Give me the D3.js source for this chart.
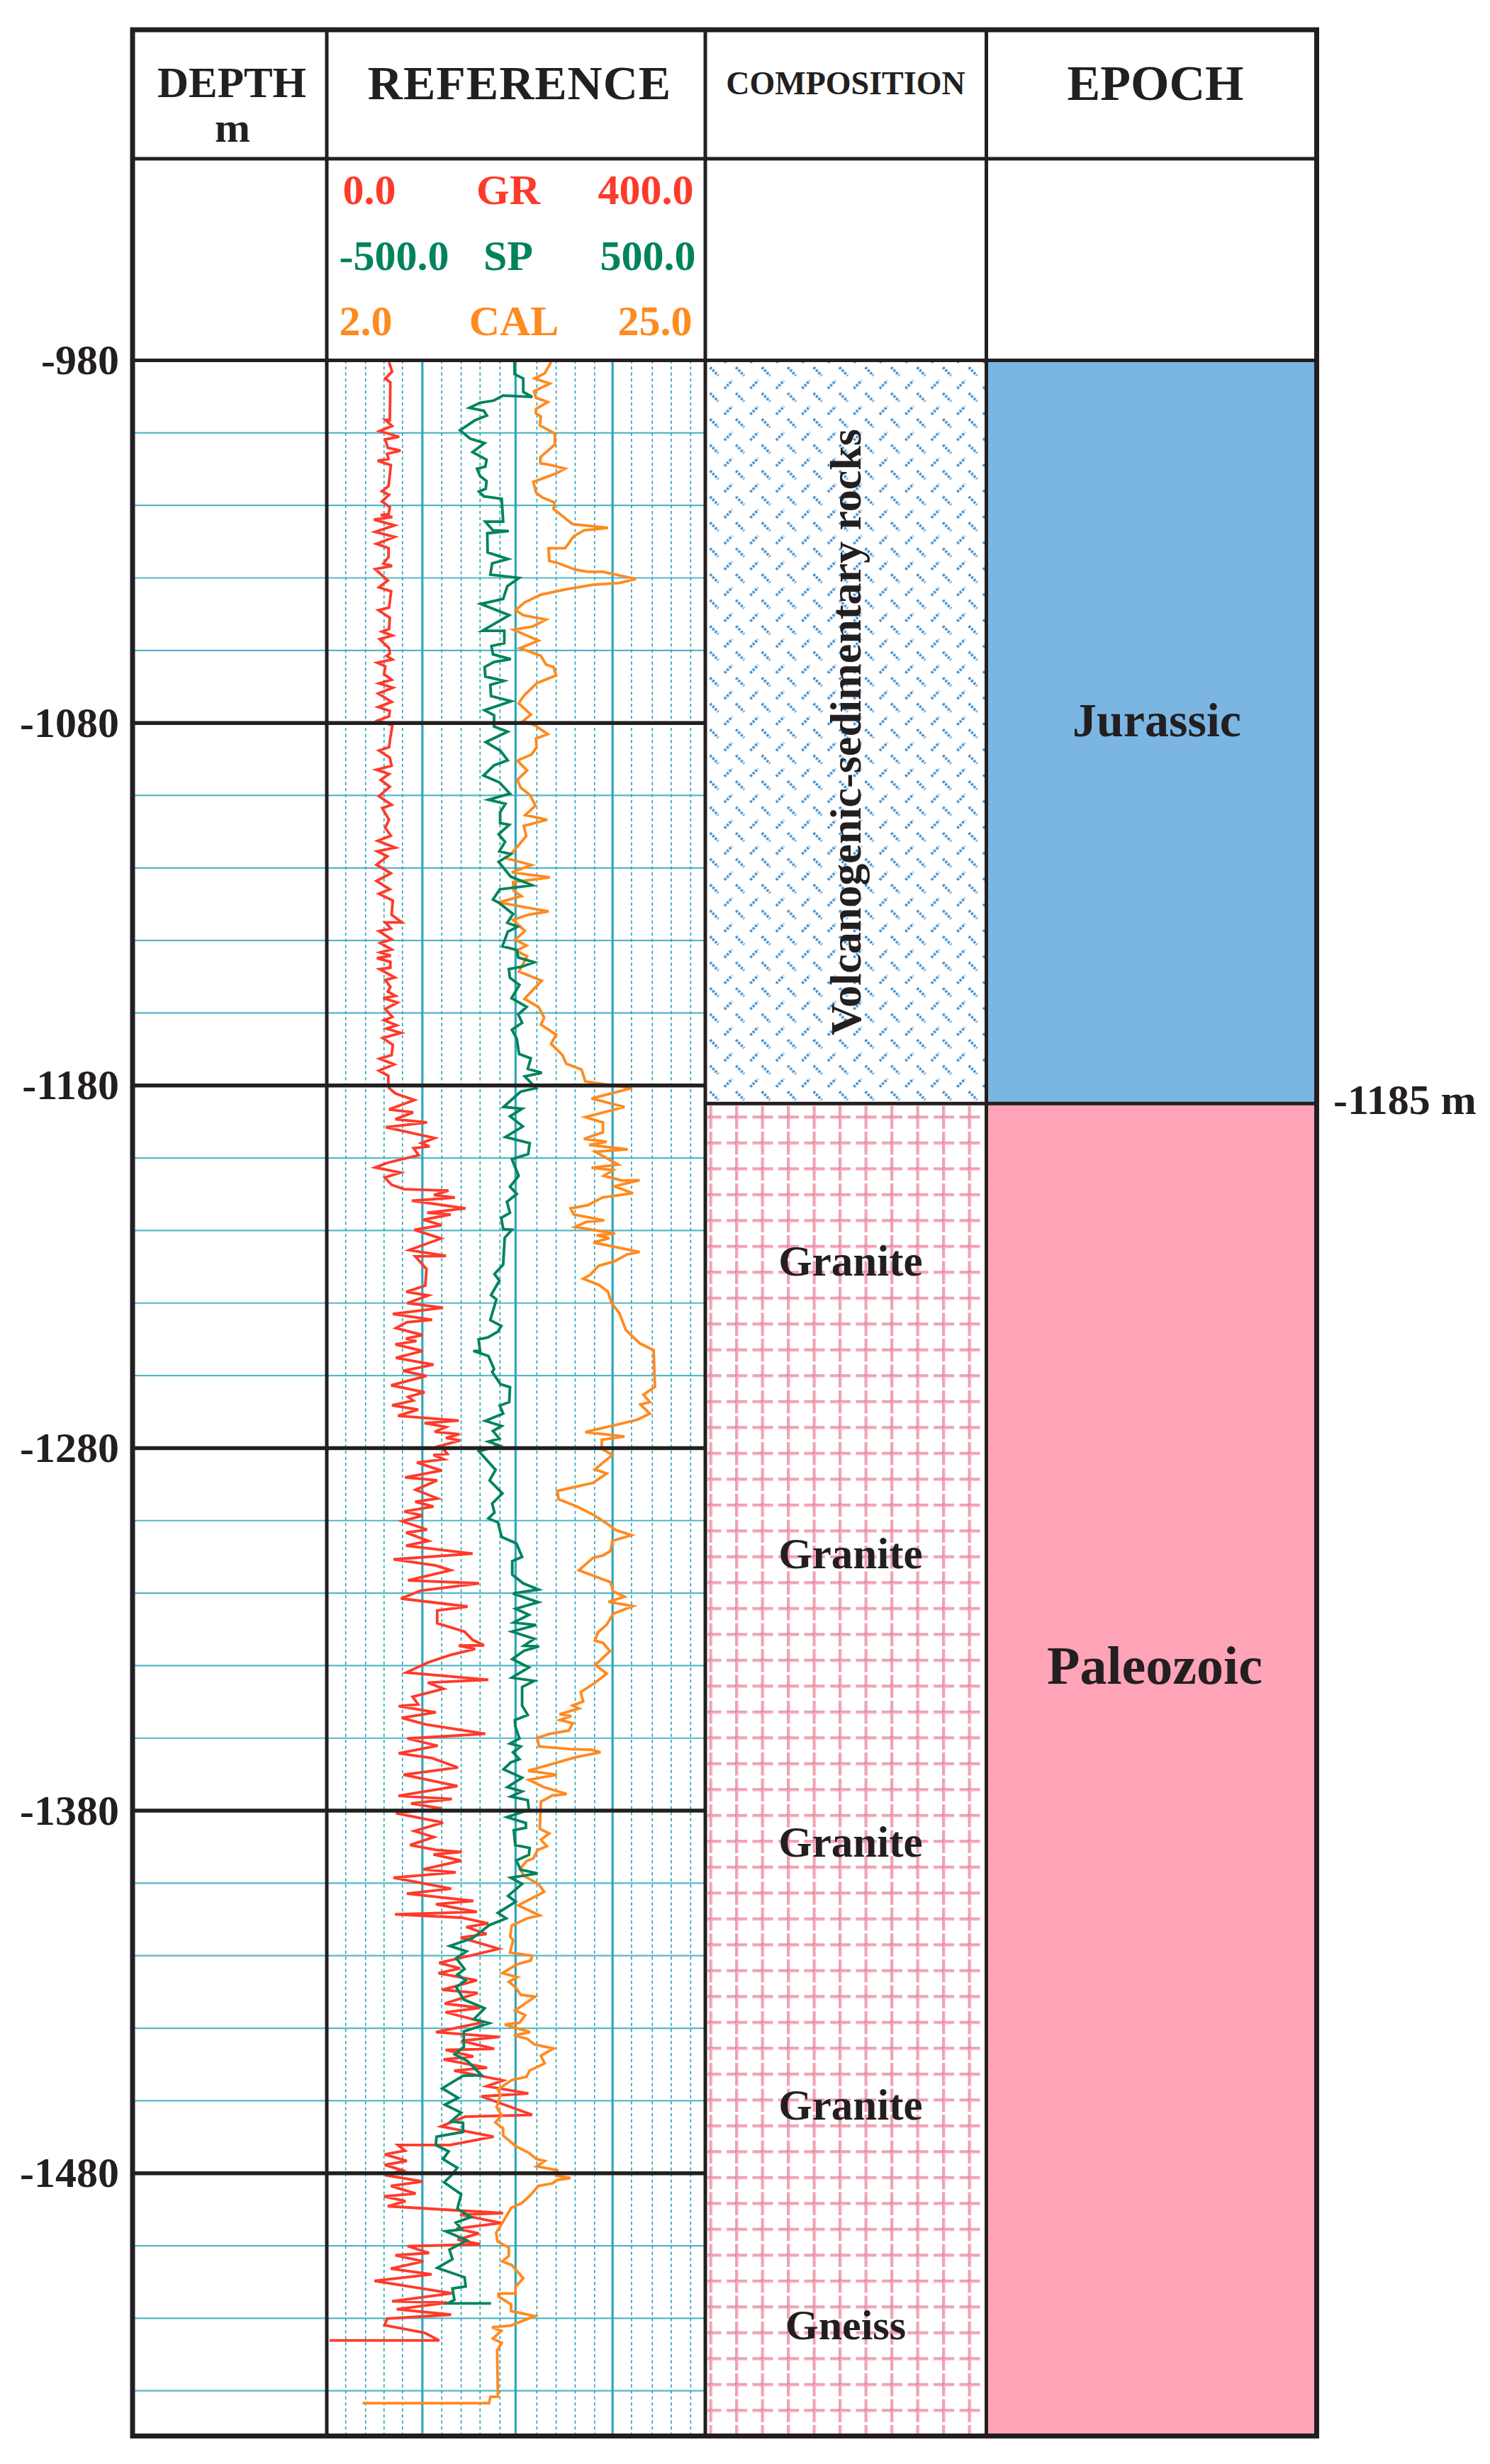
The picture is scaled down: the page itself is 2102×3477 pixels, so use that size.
<!DOCTYPE html>
<html>
<head>
<meta charset="utf-8">
<style>
  html, body { margin: 0; padding: 0; background: #fff; }
  svg { display: block; }
  text { font-family: "Liberation Serif", serif; font-weight: bold; }
</style>
<script src="https://cdn.jsdelivr.net/npm/d3@7/dist/d3.min.js"></script>
</head>
<body>
<div id="chart"></div>
<script>
// log readings as [depth m, value]
const grLog = [
[980.5,65.8],[983.1,69],[985,61.8],[986.1,67.2],[996.5,66.6],[996.4,61.8],[998.1,69],[999.5,55.9],[1001.1,76.5],[1001.8,61.8],
[1004.1,64.5],[1004.9,77.9],[1005.8,63.7],[1007.2,65.3],[1007.7,53.8],[1008.9,67.7],[1014.7,65.3],[1016.1,58.3],[1017.1,65.8],[1018.9,58.3],
[1020.5,66.6],[1022.4,65.3],[1022.7,57],[1023.2,69.3],[1023.9,49.8],[1025.5,71.7],[1027.3,51.1],[1028.7,71.7],[1030.6,52.5],[1031.8,65.3],
[1034.2,65.3],[1036,59.9],[1036.7,69],[1037.6,51.1],[1040.7,64.5],[1042.6,55.1],[1043.7,68],[1048.2,65.8],[1048.9,54.6],[1051,66.6],
[1054.1,65.8],[1054.8,58.3],[1055.9,69.3],[1056.9,55.9],[1059.4,65.8],[1060.9,66.6],[1061.5,63.2],[1062.5,69.3],[1063.4,53.3],[1064.4,61.8],
[1066.5,60.5],[1068.1,68.5],[1069.1,55.1],[1070.3,69.8],[1071.9,54.3],[1074.2,68.5],[1075.6,54.3],[1076.7,66.6],[1078.2,65.8],[1079.3,54.3],
[1080.7,69.3],[1084,67.2],[1086.7,65.8],[1087.6,55.1],[1089.6,66.6],[1091.8,68.5],[1092.9,52.5],[1094.1,65.8],[1095.7,57],[1097.6,66.6],
[1100.2,55.1],[1102.6,68.5],[1103.5,58.6],[1106.7,65.8],[1108.9,61.8],[1111.1,67.7],[1112.5,53.8],[1114.4,72.5],[1115.4,53.3],[1116.8,64],
[1119.1,52.5],[1121.5,67.7],[1123.6,52.5],[1125.9,66.6],[1127.1,55.1],[1129,69.8],[1132.9,68.5],[1135,79.2],[1135,61.8],[1136.7,67.7],
[1137.4,55.1],[1139.7,68.5],[1140.7,56.5],[1142.5,68.5],[1143.3,56.5],[1144.2,67.7],[1144.9,53],[1145.9,67.2],[1147.5,67.2],[1147.9,55.9],
[1150.2,72],[1150.9,61.8],[1152.8,67.2],[1154.1,64.5],[1155.3,72.5],[1155.9,59.7],[1157.1,74.7],[1158.9,61.8],[1161.1,69.3],[1162,60.5],
[1163.4,73.9],[1164.3,63.2],[1165.5,78.4],[1166.9,59.1],[1168.8,69.8],[1171.6,68.5],[1172.6,55.9],[1174.2,71.2],[1175.9,55.1],[1177.3,65],
[1179.3,65],[1180.7,65.8],[1182.2,72.5],[1184,92.6],[1186.6,65.8],[1187.4,91.3],[1189.3,72.5],[1190.2,106],[1191.5,62.4],[1194.5,114],
[1195.9,99.8],[1196.8,108.6],[1197.3,91.8],[1199.2,97.1],[1201.3,64.5],[1202.6,51.1],[1204,77.9],[1205.4,61.3],[1207.4,68.5],[1208.6,81.9],
[1209,128.7],[1210.2,113.2],[1210.9,135.4],[1211.8,89.9],[1213.9,146.6],[1215.1,106],[1215.6,130.9],[1217,102],[1218.5,121.2],[1219.8,92.6],
[1222.2,120.7],[1225.4,87.2],[1227,126],[1227.1,93.4],[1230.6,105.4],[1235.2,104.1],[1236.9,84],[1237.9,107.3],[1240,85.1],[1241.3,122.8],
[1243,69.8],[1244.6,111.3],[1245.3,84.6],[1246.9,73.1],[1248.8,101.4],[1249.8,83.8],[1250.5,94.7],[1251.4,72.5],[1253.2,101.4],[1255.1,73.1],
[1257,112.7],[1258.7,80.5],[1260.1,105.2],[1262.7,68],[1264.6,103.3],[1265.9,85.9],[1266.9,91.3],[1268.2,69],[1269.4,96.6],[1271.1,75.2],
[1272.4,139.4],[1273.1,103.3],[1274.2,126],[1275.5,114],[1276.2,140.2],[1277.2,126],[1277.9,140.8],[1279.5,118],[1280.5,123.9],[1281.6,127.4],
[1281.9,112.7],[1283.1,123.9],[1284,95.3],[1286.2,121.2],[1288.1,82.7],[1288.9,116.7],[1291.5,93.9],[1293.9,117.2],[1294.8,93.4],[1296.1,112.7],
[1297.5,81.9],[1298.6,101.4],[1300.2,79.7],[1302.5,106],[1303.3,83.8],[1305.6,107.3],[1306.9,83.8],[1309.1,154.1],[1310.7,70.4],[1312.4,115.3],
[1313.7,130.9],[1316.5,85.9],[1317.3,160.8],[1319.3,99.3],[1321.5,78.4],[1323.7,148.8],[1324.8,116.7],[1328.3,116.7],[1330.6,145.6],[1332.9,154.1],
[1334.4,166.2],[1334.5,139.4],[1335.4,156.8],[1337,131.4],[1339.1,107.3],[1341.9,84],[1343.9,170.7],[1344.7,106.8],[1346.4,123.4],[1348.6,90.7],
[1350.7,96.6],[1351.2,76],[1352.9,115.3],[1354.4,79.2],[1356.2,104.6],[1358.8,167.5],[1360.1,85.1],[1362.1,117.2],[1364.2,76],[1365.5,111.3],
[1368.1,138.6],[1370.1,81.1],[1373.2,138.1],[1375.9,75.7],[1376.8,132.2],[1378,89.1],[1379.4,120.7],[1380.7,73.1],[1383.3,122.8],[1385.6,92.6],
[1387.3,113.2],[1389.5,88],[1390.8,115.3],[1391.4,142.6],[1392.1,112.7],[1393.8,142.1],[1396.2,102],[1397,136.2],[1398.5,70.4],[1401.5,131.4],
[1402.9,84.6],[1404.9,154.9],[1405.8,115.3],[1407.9,158.7],[1408.6,72],[1409.5,142.1],[1411.1,170.7],[1412.1,147.4],[1414,168.9],[1415,141.6],
[1418.1,181.7],[1420.4,144.8],[1422,118.8],[1423.5,140.8],[1424.8,118],[1426.8,158.7],[1429.4,122],[1430.3,159.5],[1433.2,124.7],[1434.4,162.2],
[1435.6,125.5],[1438.3,166.2],[1441.1,115.3],[1442.4,182.2],[1443.5,142.1],[1445.7,176.9],[1446,125.5],[1447.8,154.9],[1448.6,123.4],[1450.9,169.4],
[1451.7,134.6],[1454.4,186.3],[1456,168.9],[1458,213],[1458.8,163.5],[1463.9,217],[1464.4,146.1],[1467.1,120.7],[1469.9,176.3],[1472.2,130.1],
[1472.2,75.2],[1473.8,82.7],[1474.8,61.3],[1476.6,84.6],[1477.7,61.3],[1479.2,80],[1480.5,61.8],[1482.3,101.4],[1483.5,67.7],[1485.6,93.9],
[1486.4,60.5],[1487.7,83.2],[1489.1,64.5],[1491,186.3],[1491.4,140.8],[1493.7,184.4],[1495.3,136.7],[1496.6,160.8],[1498.3,138.1],[1499.6,162.2],
[1500.1,85.4],[1502,108.1],[1502.6,72.5],[1504.3,102],[1506.3,67.7],[1507.9,110.8],[1509.7,50.3],[1513.1,132.2],[1515.3,69],[1515.7,127.4],
[1517.5,73.9],[1519,131.4],[1520.1,64],[1521.9,61],[1524,103.3],[1526.1,118.8],[1526.1,2.9]
];

const spLog = [
[980.5,-4],[983.8,-4],[985,19],[988.7,19],[990.1,43],[989.7,-34],[991.1,-59],[991.7,-95],[993.1,-123],[993.9,-85],
[995.2,-77],[996.5,-108],[999.3,-148],[1001.6,-121],[1002.8,-83],[1005.3,-115],[1007.4,-78],[1009.3,-81],[1009.9,-103],[1011.9,-95],
[1013.3,-78],[1015.4,-80],[1016.2,-98],[1017.5,-85],[1018.2,-38],[1024.5,-34],[1024.5,-81],[1026.9,-61],[1027.1,-19],[1027.7,-76],
[1033,-75],[1034.8,-21],[1036,-63],[1039.1,-68],[1040,8],[1042.3,-23],[1045.8,-34],[1047.2,-93],[1050.3,-18],[1054.6,-89],
[1054.6,-31],[1058,-31],[1058.8,-65],[1061.1,-61],[1062.4,-14],[1063.2,-58],[1064.6,-83],[1067.2,-81],[1068.4,-32],[1069.5,-68],
[1072.6,-66],[1074,-13],[1076.5,-83],[1077.9,-58],[1081,-58],[1082.4,-22],[1085.3,-80],[1087.7,-41],[1090.3,-22],[1091.7,-58],
[1094.5,-86],[1096.4,-44],[1099.5,-16],[1101.2,-73],[1102.3,-28],[1104.6,-42],[1107.6,-42],[1108.1,-18],[1110.7,-46],[1112.8,-29],
[1115.4,-44],[1116.2,-14],[1118.3,-46],[1122.4,-14],[1124.8,43],[1125.9,-43],[1128.7,-61],[1129.7,-44],[1132.7,-8],[1135.1,-23],
[1136.2,4],[1137.6,-22],[1141.6,-36],[1142.6,2],[1144.7,6],[1146,48],[1147.2,16],[1147.9,-19],[1150.3,-16],[1152.3,9],
[1155.9,-12],[1158.3,28],[1160.4,6],[1162.7,16],[1164.6,-11],[1167.1,2],[1171.3,8],[1172.5,39],[1175.4,31],[1176.5,68],
[1177.5,23],[1179.6,43],[1180.7,53],[1181.7,12],[1185.9,-33],[1186.4,16],[1188.5,-16],[1191.3,18],[1194.2,-28],[1195.9,36],
[1198.9,32],[1200.3,-11],[1204.9,7],[1207.9,-16],[1209.9,2],[1212.1,-24],[1215.1,-16],[1216.5,-39],[1219.6,-34],[1219.8,-11],
[1222,-30],[1229.4,-34],[1232,-57],[1233.8,-44],[1237.8,-66],[1239,-52],[1244.7,-68],[1246.3,-39],[1247.9,-48],[1249.5,-75],
[1250,-99],[1253.2,-95],[1253.2,-113],[1254.6,-73],[1258.2,-58],[1259,-63],[1262.4,-41],[1263.2,-16],[1267.3,-18],[1268.3,-43],
[1270.5,-34],[1272.5,-81],[1273.9,-38],[1275.3,-61],[1277.4,-44],[1278.2,-73],[1279.3,-44],[1280.9,-98],[1286,-54],[1288.9,-70],
[1292.5,-36],[1295.3,-63],[1297.8,-57],[1299.4,-73],[1300.5,-48],[1304.5,-38],[1306.3,1],[1310,16],[1311.2,-10],[1314.9,-10],
[1317.3,19],[1319,59],[1320.1,-8],[1322.5,59],[1324.3,-1],[1326,34],[1328.1,-6],[1328.8,53],[1330.6,-11],[1332.6,48],
[1334.5,21],[1334.7,61],[1335.9,21],[1338.2,-10],[1340.5,34],[1343.3,-11],[1344.2,48],[1345.9,16],[1351,16],[1353.6,31],
[1355,-3],[1356.7,-2],[1360.1,9],[1361.5,-16],[1362.3,12],[1363.9,-8],[1365.8,9],[1366.7,-14],[1368.6,-33],[1370.9,16],
[1373.5,-23],[1374.7,16],[1376.1,-14],[1377.1,31],[1379.8,34],[1381.8,-24],[1383.4,26],[1384.7,26],[1385.4,-6],[1389.5,-2],
[1390.3,36],[1392.2,34],[1393.7,1],[1396.3,12],[1397.3,57],[1398.5,-14],[1400.2,16],[1403.5,-21],[1405.1,-1],[1408.2,-48],
[1409.7,-26],[1411.6,-71],[1415.2,-115],[1417.3,-175],[1418.8,-131],[1420.7,-158],[1423.7,-136],[1425.2,-155],[1426.8,-133],[1428.7,-158],
[1432.1,-138],[1434.5,-83],[1437.5,-111],[1438.6,-71],[1440.9,-138],[1445.2,-138],[1447.2,-162],[1449.1,-128],[1453,-91],[1453.1,-140],
[1456.6,-195],[1459.2,-153],[1461.1,-188],[1463.3,-145],[1465.7,-172],[1466.1,-140],[1468.6,-140],[1469.9,-210],[1472.2,-212],[1474,-178],
[1476.1,-193],[1478.5,-155],[1480.7,-172],[1482.5,-190],[1485.8,-145],[1489.8,-155],[1492.1,-119],[1493.6,-159],[1495.5,-143],[1496,-186],
[1498.5,-130],[1501.1,-176],[1503.7,-168],[1506.1,-208],[1508.7,-136],[1511.2,-133],[1511.8,-168],[1514.9,-163],[1515.9,-180],[1515.9,-66]
];

const calLog = [
[980.5,15.63],[983.6,15.24],[985,14.63],[986.4,15.55],[988.5,14.6],[990.3,14.71],[991.5,15.43],[993.4,14.71],[994.6,14.71],[995.5,15.01],
[997.9,14.94],[1000.2,15.86],[1003.2,15.86],[1006.7,14.98],[1008.4,14.98],[1008.8,15.55],[1009.9,16.48],[1011.2,15.94],[1013.5,14.55],[1016.4,14.71],
[1017.8,15.09],[1019.2,15.83],[1021,15.78],[1025.2,16.94],[1026.2,19.09],[1026.9,17.63],[1028.5,17.01],[1031.8,16.48],[1031.8,15.48],[1035.3,15.52],
[1036,16.09],[1037.7,17.09],[1038.3,17.86],[1038.3,18.78],[1040.3,20.78],[1041.4,19.78],[1041.9,18.17],[1043.2,16.48],[1044.6,15.01],[1046.8,14.01],
[1048.9,13.47],[1050.3,13.94],[1051.5,15.32],[1053.4,14.52],[1054.3,13.35],[1057.3,14.86],[1059.4,13.74],[1061.5,15.01],[1063.9,15.32],[1064.6,15.78],
[1066.9,15.94],[1069,14.78],[1072.3,14.01],[1074.6,13.66],[1077.7,14.4],[1079.4,13.94],[1080.7,14.66],[1083.1,15.43],[1084.3,14.71],[1086.7,14.75],
[1088.7,14.44],[1090.4,13.58],[1093.1,14.17],[1095.7,13.58],[1097.8,13.78],[1099.9,14.35],[1102.8,14.68],[1105.4,14.06],[1106.7,15.4],[1108.4,13.97],
[1111.2,14.12],[1115.1,13.4],[1117.3,12.91],[1119.2,14.44],[1121.2,13.24],[1122.6,15.55],[1123.9,13.32],[1126.2,13.35],[1127.8,13.83],[1129.5,12.44],
[1132,15.48],[1132.9,14.24],[1134.3,13.32],[1137.4,14.04],[1139.8,13.44],[1141.4,14.14],[1142.8,13.52],[1144.4,14.17],[1148.6,13.68],[1151.1,15.06],
[1156.1,14.01],[1158.3,14.86],[1161.3,15.21],[1163.2,15.01],[1166,15.94],[1168.5,15.63],[1171.6,16.32],[1174,16.55],[1175.6,17.48],[1178.9,17.71],
[1180.7,20.55],[1183.6,18.09],[1185.9,20.09],[1188.7,17.71],[1190.2,18.78],[1192.9,18.78],[1194.7,17.63],[1195.5,19.01],[1196.4,17.94],[1197.6,20.29],
[1198.3,18.32],[1201.8,19.71],[1202.7,18.09],[1203.3,19.4],[1204.9,18.83],[1206.2,19.94],[1206.1,21.01],[1207.8,19.48],[1209.7,20.6],[1210.9,18.75],
[1213,17.86],[1213.9,16.81],[1215.6,17.01],[1217.2,18.86],[1217.6,17.78],[1219,17.09],[1220.8,19.52],[1221.3,18.4],[1222.1,19.17],[1223.3,18.2],
[1225.9,21.01],[1226.6,20.24],[1228.5,19.48],[1229.7,18.52],[1232.2,18.01],[1233.3,17.58],[1235,18.55],[1236.9,19.09],[1239.9,19.29],[1242.8,19.78],
[1247.4,20.17],[1251.1,21.01],[1253,21.86],[1263.1,21.94],[1265.3,21.24],[1267.3,21.63],[1268,21.06],[1270.5,21.63],[1272.2,20.86],[1275.6,17.71],
[1276.8,20.09],[1277.7,18.71],[1280.2,18.71],[1281.9,19.35],[1285.9,18.29],[1287,19.01],[1289.6,18.17],[1291.8,16.01],[1294.1,16.09],[1296.2,17.24],
[1298.5,18.24],[1300.8,19.01],[1302.6,19.55],[1304,20.51],[1305.6,19.35],[1308.4,19.24],[1309.6,18.78],[1310.3,18.17],[1313.7,17.32],[1317,19.24],
[1319.5,19.4],[1321,20.09],[1322.4,19.12],[1323.6,20.6],[1325.7,19.4],[1328.7,19.01],[1330.8,18.48],[1333.1,18.29],[1333.7,18.78],[1336,19.21],
[1339.8,18.32],[1342.2,19.01],[1344.9,18.24],[1347.3,17.43],[1349.9,17.58],[1351,16.94],[1351.8,17.32],[1353.4,16.14],[1353.9,16.86],[1355,16.17],
[1355.9,16.94],[1357.9,16.71],[1358.8,15.55],[1359.9,14.78],[1362.3,14.91],[1363,16.78],[1363.2,18.09],[1363.9,18.63],[1365.3,17.09],[1369,14.24],
[1370.1,15.98],[1371.5,14.28],[1373.5,15.17],[1375.4,16.58],[1375.8,15.71],[1377.5,15.01],[1385,14.94],[1386.3,15.52],[1388,15.01],[1389.8,15.37],
[1390.9,14.81],[1393.2,14.55],[1393.9,14.14],[1396.1,13.74],[1398.1,14.01],[1400.2,14.86],[1402.4,15.21],[1406.1,13.63],[1408.9,14.94],[1409.7,14.17],
[1411.7,13.24],[1414.7,13.14],[1415.7,13.32],[1419.1,13.14],[1420,14.47],[1421.3,14.4],[1422.4,13.55],[1424.8,12.66],[1425.9,13.58],[1427.2,13.06],
[1428.7,13.47],[1430.8,13.78],[1431.3,14.66],[1435.1,13.44],[1436.4,14.06],[1438.5,13.71],[1439,12.81],[1441.1,14.35],[1442,13.37],[1442.9,14.17],
[1444.5,14.63],[1445.6,15.78],[1447.6,15.01],[1449.7,15.24],[1451.7,14.32],[1453.4,14.14],[1454.3,13.24],[1456.9,12.4],[1458.5,12.55],[1461.8,12.32],
[1464.1,12.63],[1466,12.24],[1467.6,12.71],[1469.6,12.71],[1472.5,13.47],[1474.4,14.29],[1476.1,14.75],[1476.6,15.24],[1478.1,14.75],[1479.2,16.01],
[1480.7,15.94],[1481.3,16.81],[1481.9,15.98],[1482.8,15.71],[1483.5,14.86],[1485.9,14.4],[1488.2,13.86],[1489.6,13.2],[1494,12.63],[1496.4,12.29],
[1498.8,12.37],[1500.5,13.06],[1502.8,13.06],[1504.3,12.66],[1505.3,13.24],[1509,13.94],[1511.3,13.47],[1513.1,13.47],[1513.2,12.44],[1514,12.44],
[1516.2,13.2],[1518,13.2],[1519.4,14.63],[1522,13.2],[1522.5,12.04],[1523.5,12.6],[1525.6,12.09],[1526.8,12.63],[1528.9,12.35],[1541.6,12.4],
[1541.7,11.94],[1543.4,11.86],[1543.4,4.17]
];

const depthTicks = [980, 1080, 1180, 1280, 1380, 1480];
const minorDepths = [1000, 1020, 1040, 1060, 1100, 1120, 1140, 1160, 1200, 1220, 1240, 1260, 1300, 1320, 1340, 1360, 1400, 1420, 1440, 1460, 1500, 1520, 1540];
// vertical grid read on the GR scale
const gridSolid = [101, 199.5, 302];
const gridDashed = [20, 41, 60.5, 80, 121.5, 142, 162, 183, 222, 242.4, 262.5, 283, 322, 344, 364, 384.5];

const boundaryDepth = 1185;
const granite = "Granite";

// layout
const W = 2102, H = 3477;
const col = { left: 187, depth: 461, ref: 995, comp: 1391.5, right: 1857.5 };
const rowTop = 42, rowHead = 224, rowLog = 508.5, rowBottom = 3437.5;
const ink = "#231f20", teal = "#2fa8bc";
const red = "#ff3a2a", green = "#00835c", orange = "#ff8a1f";
const blue = "#7bb6e3", pink = "#ffa3b7";

const y = d3.scaleLinear().domain([980, 1480]).range([rowLog, 3066.7]);
const xGR = d3.scaleLinear().domain([0, 400]).range([col.depth, col.ref]);
const xSP = d3.scaleLinear().domain([-500, 500]).range([col.depth, col.ref]);
const xCAL = d3.scaleLinear().domain([2, 25]).range([col.depth, col.ref]);

const svg = d3.select("#chart").append("svg")
    .attr("width", W)
    .attr("height", H)
    .attr("viewBox", `0 0 ${W} ${H}`);

svg.append("rect").attr("width", W).attr("height", H).attr("fill", "#fff");

const defs = svg.append("defs");

// volcanogenic hatch
const hatch = defs.append("pattern")
    .attr("id", "volcanic")
    .attr("patternUnits", "userSpaceOnUse")
    .attr("width", 36.5).attr("height", 36.5)
    .attr("x", 1000).attr("y", 515);
[[1.7, 3.3, 13.3, 15], [22, 33.3, 33, 22]].forEach(s => {
    hatch.append("line")
        .attr("x1", s[0]).attr("y1", s[1]).attr("x2", s[2]).attr("y2", s[3])
        .attr("stroke", "#3f8fd0").attr("stroke-width", 3.8)
        .attr("stroke-dasharray", "3.2 1.8");
});

// granite crosses
const cross = defs.append("pattern")
    .attr("id", "granite")
    .attr("patternUnits", "userSpaceOnUse")
    .attr("width", 36.5).attr("height", 36.5)
    .attr("x", 1021.25).attr("y", 1558.45);
cross.append("line").attr("x1", 18.25).attr("x2", 18.25).attr("y1", 2).attr("y2", 34.5)
    .attr("stroke", pink).attr("stroke-width", 3.8);
cross.append("line").attr("x1", 3.7).attr("x2", 32.8).attr("y1", 18.25).attr("y2", 18.25)
    .attr("stroke", pink).attr("stroke-width", 3.8);
cross.append("line").attr("x1", 16.6).attr("x2", 16.6).attr("y1", 2).attr("y2", 34.5)
    .attr("stroke", "#6b5a5e").attr("stroke-width", 0.7).attr("stroke-opacity", 0.6);
cross.append("line").attr("x1", 3.7).attr("x2", 32.8).attr("y1", 16.6).attr("y2", 16.6)
    .attr("stroke", "#6b5a5e").attr("stroke-width", 0.7).attr("stroke-opacity", 0.6);

const yBoundary = y(boundaryDepth);

// composition and epoch fills
svg.append("rect").attr("x", col.ref).attr("y", rowLog)
    .attr("width", col.comp - col.ref).attr("height", yBoundary - rowLog)
    .attr("fill", "url(#volcanic)");
svg.append("rect").attr("x", col.ref + 3).attr("y", yBoundary)
    .attr("width", col.comp - col.ref - 3).attr("height", rowBottom - yBoundary)
    .attr("fill", "url(#granite)");
svg.append("rect").attr("x", col.comp).attr("y", rowLog)
    .attr("width", col.right - col.comp).attr("height", yBoundary - rowLog)
    .attr("fill", blue);
svg.append("rect").attr("x", col.comp).attr("y", yBoundary)
    .attr("width", col.right - col.comp).attr("height", rowBottom - yBoundary)
    .attr("fill", pink);

// grid
const grid = svg.append("g");
grid.selectAll(".minor").data(minorDepths).join("line")
    .attr("x1", col.left).attr("x2", col.ref)
    .attr("y1", d => y(d)).attr("y2", d => y(d))
    .attr("stroke", "#56b7c7").attr("stroke-width", 2.2);
grid.selectAll(".dash").data(gridDashed).join("line")
    .attr("x1", d => xGR(d)).attr("x2", d => xGR(d))
    .attr("y1", rowLog).attr("y2", rowBottom)
    .attr("stroke", teal).attr("stroke-width", 1.7)
    .attr("stroke-dasharray", "4.5 4");
grid.selectAll(".solid").data(gridSolid).join("line")
    .attr("x1", d => xGR(d)).attr("x2", d => xGR(d))
    .attr("y1", rowLog).attr("y2", rowBottom)
    .attr("stroke", teal).attr("stroke-width", 3.2);

// log curves
const curve = (rows, x, color) => {
    const line = d3.line().x(d => x(d[1])).y(d => y(d[0]));
    svg.append("path")
        .attr("d", line(rows))
        .attr("fill", "none")
        .attr("stroke", color)
        .attr("stroke-width", 3.8)
        .attr("stroke-linejoin", "miter");
};
curve(grLog, xGR, red);
curve(calLog, xCAL, orange);
curve(spLog, xSP, green);

// depth axis
const axis = d3.axisLeft(y)
    .tickValues(depthTicks)
    .tickFormat(d => "-" + d)
    .tickSize(0)
    .tickPadding(19);
const axisG = svg.append("g").attr("transform", `translate(${col.left},0)`).call(axis);
axisG.select(".domain").remove();
axisG.selectAll("text")
    .attr("fill", ink)
    .style("font-family", '"Liberation Serif", serif')
    .style("font-weight", "bold")
    .style("font-size", "60px");

// major depth lines
svg.append("g").selectAll("line").data(depthTicks.slice(1)).join("line")
    .attr("x1", col.left).attr("x2", col.ref)
    .attr("y1", d => y(d)).attr("y2", d => y(d))
    .attr("stroke", ink).attr("stroke-width", 5.5);

// frame
const frame = svg.append("g").attr("stroke", ink).attr("fill", "none");
frame.append("rect")
    .attr("x", col.left).attr("y", rowTop)
    .attr("width", col.right - col.left).attr("height", rowBottom - rowTop)
    .attr("stroke-width", 7);
[[col.left, rowHead, col.right, rowHead], [col.left, rowLog, col.right, rowLog],
 [col.depth, rowTop, col.depth, rowBottom], [col.ref, rowTop, col.ref, rowBottom],
 [col.comp, rowTop, col.comp, rowBottom], [col.ref, yBoundary, col.right, yBoundary]].forEach(s => {
    frame.append("line")
        .attr("x1", s[0]).attr("y1", s[1]).attr("x2", s[2]).attr("y2", s[3])
        .attr("stroke-width", 5);
});

// texts
const label = (t, x, yy, size, color, anchor, rotate) => {
    const el = svg.append("text")
        .attr("x", x).attr("y", yy)
        .attr("font-size", size)
        .attr("fill", color || ink)
        .attr("text-anchor", anchor || "middle")
        .text(t);
    if (rotate) el.attr("transform", `rotate(${rotate} ${x} ${yy})`);
    return el;
};
label("DEPTH", 327, 137, 61);
label("m", 328, 200, 60);
label("REFERENCE", 733, 140, 68).attr("letter-spacing", 1);
label("COMPOSITION", 1193, 133, 46);
label("EPOCH", 1630, 141, 70);

label("0.0", 521, 288, 60, red);
label("GR", 717, 288, 60, red);
label("400.0", 911, 288, 60, red);
label("-500.0", 556, 381, 60, green);
label("SP", 717, 381, 60, green);
label("500.0", 914, 381, 60, green);
label("2.0", 516, 473, 60, orange);
label("CAL", 725, 473, 60, orange);
label("25.0", 924, 473, 60, orange);

label("Volcanogenic-sedimentary rocks", 1214, 1033, 62, ink, "middle", -90);
label(granite, 1200, 1800, 61);
label(granite, 1200, 2213, 61);
label(granite, 1200, 2620, 61);
label(granite, 1200, 2991, 61);
label("Gneiss", 1193, 3301, 60);
label("Jurassic", 1632, 1039, 68);
label("Paleozoic", 1629, 2376, 76);
label("-1185 m", 1881, 1571.5, 60, ink, "start");
</script>
</body>
</html>
